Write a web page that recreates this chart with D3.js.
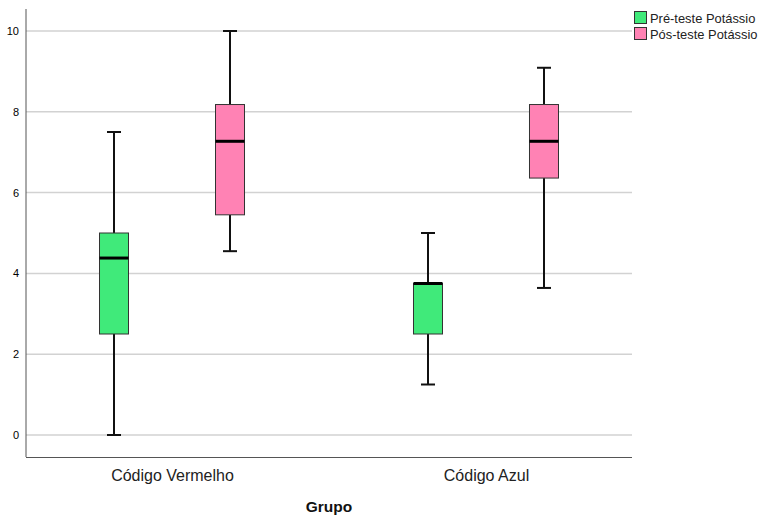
<!DOCTYPE html>
<html><head><meta charset="utf-8">
<script src="https://cdn.jsdelivr.net/npm/d3@7"></script>
<style>body{margin:0;background:#fff;}svg{display:block;font-family:"Liberation Sans",Arial,sans-serif;}</style>
</head><body><svg id="c" width="760" height="516"></svg>
<script>
const categories = ["Código Vermelho", "Código Azul"];
const seriesNames = ["Pré-teste Potássio", "Pós-teste Potássio"];
const seriesColors = ["#40EA7A", "#FF82B4"];
// [min, q1, median, q3, max] per category
const preTeste = [[0, 2.5, 4.38, 5, 7.5], [1.25, 2.5, 3.75, 3.75, 5]];
const posTeste = [[4.55, 5.45, 7.27, 8.18, 10], [3.64, 6.36, 7.27, 8.18, 9.09]];
const yTicks = [0, 2, 4, 6, 8, 10];
const xTitle = "Grupo";

(function () {
const svg = d3.select("#c");
const pL = 26, pR = 632, pT = 9, pB = 457;
const y = d3.scaleLinear().domain([0, 10]).range([435, 31]);
const x = d3.scalePoint().domain(categories).range([pL, pR]).padding(0.465);
const off = d3.scalePoint().domain(seriesNames).range([-58, 58]);
const boxW = 29, capW = 14;

// grid
svg.append("g").selectAll("line").data(yTicks).join("line")
  .attr("x1", pL).attr("x2", pR)
  .attr("y1", d => y(d)).attr("y2", d => y(d))
  .attr("stroke", "#d2d2d2").attr("stroke-width", 1.5);

// y axis
const ya = svg.append("g").attr("transform", `translate(${pL},0)`)
  .call(d3.axisLeft(y).tickValues(yTicks).tickSize(0).tickPadding(7).tickFormat(d3.format("d")));
ya.select(".domain").remove();
ya.selectAll("text").attr("font-size", 11).attr("fill", "#000").attr("font-family", "Liberation Sans, Arial, sans-serif");
svg.append("line").attr("x1", pL).attr("x2", pL).attr("y1", pT).attr("y2", pB).attr("stroke", "#555").attr("stroke-width", 1);

// x axis
const xa = svg.append("g").attr("transform", `translate(0,${pB})`)
  .call(d3.axisBottom(x).tickSize(0).tickPadding(13));
xa.select(".domain").attr("d", `M${pL},0.5H${pR}`).attr("stroke", "#555");
xa.selectAll("text").attr("font-size", 16).attr("fill", "#222").attr("font-family", "Liberation Sans, Arial, sans-serif");

svg.append("text").attr("x", (pL + pR) / 2).attr("y", 512).attr("text-anchor", "middle")
  .attr("font-weight", "bold").attr("font-size", 15.5).attr("fill", "#111").text(xTitle);

// boxes
const series = [preTeste, posTeste];
series.forEach((vals, si) => {
  const g = svg.append("g");
  categories.forEach((c, ci) => {
    const [mn, q1, md, q3, mx] = vals[ci];
    const cx = x(c) + off(seriesNames[si]);
    g.append("line").attr("x1", cx).attr("x2", cx).attr("y1", y(mx)).attr("y2", y(q3)).attr("stroke", "#111").attr("stroke-width", 2);
    g.append("line").attr("x1", cx).attr("x2", cx).attr("y1", y(q1)).attr("y2", y(mn)).attr("stroke", "#111").attr("stroke-width", 2);
    g.append("line").attr("x1", cx - capW / 2).attr("x2", cx + capW / 2).attr("y1", y(mx)).attr("y2", y(mx)).attr("stroke", "#111").attr("stroke-width", 2);
    g.append("line").attr("x1", cx - capW / 2).attr("x2", cx + capW / 2).attr("y1", y(mn)).attr("y2", y(mn)).attr("stroke", "#111").attr("stroke-width", 2);
    g.append("rect").attr("x", cx - boxW / 2).attr("y", y(q3)).attr("width", boxW).attr("height", y(q1) - y(q3))
      .attr("fill", seriesColors[si]).attr("stroke", "#333").attr("stroke-width", 1);
    g.append("line").attr("x1", cx - boxW / 2).attr("x2", cx + boxW / 2).attr("y1", y(md)).attr("y2", y(md)).attr("stroke", "#000").attr("stroke-width", 3);
  });
});

// legend
const lg = svg.append("g");
seriesNames.forEach((n, i) => {
  const yy = 11.5 + i * 16;
  lg.append("rect").attr("x", 634.5).attr("y", yy).attr("width", 12).attr("height", 12)
    .attr("fill", seriesColors[i]).attr("stroke", "#333").attr("stroke-width", 1);
  lg.append("text").attr("x", 650).attr("y", yy + 11.5).attr("font-size", 12.9).attr("fill", "#222").text(n);
});
})();
</script></body></html>
